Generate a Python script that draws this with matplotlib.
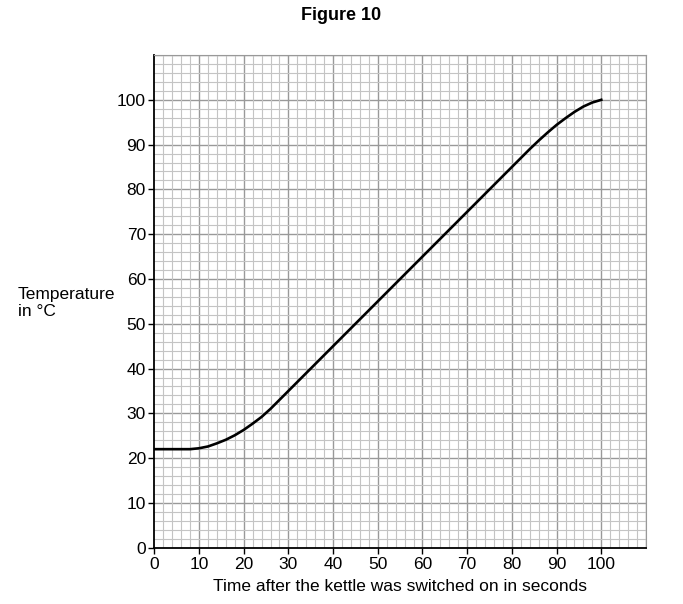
import matplotlib
matplotlib.use("Agg")
from matplotlib import pyplot as plt
from matplotlib.ticker import MultipleLocator

# time in seconds, temperature in degrees C
time_s = [0, 8, 10, 12, 14, 16, 18, 20, 22, 24, 26, 28, 30, 40, 50, 60, 70,
          80, 84, 86, 88, 90, 92, 94, 96, 98, 100]
temp_c = [22, 22, 22.2, 22.6, 23.3, 24.1, 25.1, 26.3, 27.7, 29.2, 31, 33, 35,
          45, 55, 65, 75, 85, 89, 90.9, 92.7, 94.4, 95.9, 97.3, 98.5, 99.4, 100]

major_ticks = [0, 10, 20, 30, 40, 50, 60, 70, 80, 90, 100]

plt.rcParams["font.family"] = ["Liberation Sans", "DejaVu Sans"]
plt.rcParams["font.size"] = 12.5

fig = plt.figure(figsize=(6.83, 6.04), dpi=100)
ax = fig.add_axes([0.2259, 0.0932, 0.7199, 0.8157])

ax.set_xlim(0, 110)
ax.set_ylim(0, 110)
ax.set_xticks(major_ticks)
ax.set_yticks(major_ticks)
ax.xaxis.set_minor_locator(MultipleLocator(2))
ax.yaxis.set_minor_locator(MultipleLocator(2))
# major lines every 10, minor every 2
for v in range(10, 111, 10):
    ax.axvline(v, color="#999999", lw=1.0, zorder=1)
    ax.axhline(v, color="#999999", lw=1.0, zorder=1)
ax.grid(True, which="minor", color="#c4c4c4", lw=0.8, zorder=0)
ax.tick_params(which="minor", length=0)
ax.tick_params(which="major", length=4, width=1, color="black", labelsize=12.5, pad=2)
ax.tick_params(axis="x", pad=3)

ax.spines["top"].set_color("#999999")
ax.spines["right"].set_color("#999999")
ax.spines["left"].set_linewidth(1.3)
ax.spines["bottom"].set_linewidth(1.3)

ax.plot(time_s, temp_c, color="black", lw=1.9, solid_joinstyle="round", zorder=3)

ax.set_xlabel("Time after the kettle was switched on in seconds", fontsize=12.5, labelpad=5)
fig.text(18 / 683, 1 - 287 / 604, "Temperature\nin °C", fontsize=12.5, ha="left", va="top",
         linespacing=1.2)

fig.text(0.5, 1 - 15 / 604, "Figure 10", fontsize=13, fontweight="bold", ha="center", va="center",
         family=["Liberation Sans Narrow", "Liberation Sans", "DejaVu Sans"])

fig.savefig("out.png", dpi=100)
